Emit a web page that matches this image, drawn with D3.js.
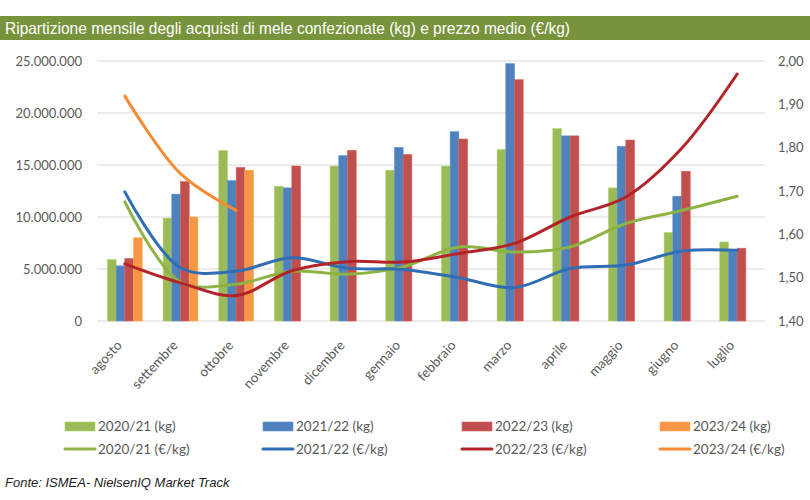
<!DOCTYPE html>
<html><head><meta charset="utf-8">
<script src="https://cdn.jsdelivr.net/npm/d3@7/dist/d3.min.js"></script>
<style>
html,body{margin:0;padding:0;background:#fff;}
svg{display:block;}
</style></head>
<body>
<svg id="chart" width="810" height="500"></svg>
<script>
const months = ["agosto","settembre","ottobre","novembre","dicembre","gennaio","febbraio","marzo","aprile","maggio","giugno","luglio"];
const kg2021 = [5.9e6, 9.9e6, 16.4e6, 12.95e6, 14.9e6, 14.5e6, 14.9e6, 16.5e6, 18.5e6, 12.8e6, 8.5e6, 7.6e6];
const kg2122 = [5.3e6, 12.2e6, 13.5e6, 12.8e6, 15.9e6, 16.7e6, 18.2e6, 24.75e6, 17.8e6, 16.8e6, 12.0e6, 6.7e6];
const kg2223 = [6.0e6, 13.4e6, 14.75e6, 14.9e6, 16.4e6, 16.0e6, 17.5e6, 23.2e6, 17.8e6, 17.4e6, 14.4e6, 7.0e6];
const kg2324 = [8.0e6, 10.0e6, 14.5e6, null, null, null, null, null, null, null, null, null];
const price2021 = [1.675, 1.49, 1.485, 1.515, 1.508, 1.525, 1.571, 1.559, 1.571, 1.625, 1.655, 1.688];
const price2122 = [1.698, 1.523, 1.515, 1.546, 1.522, 1.519, 1.50, 1.477, 1.521, 1.529, 1.561, 1.563];
const price2223 = [1.532, 1.488, 1.459, 1.516, 1.537, 1.536, 1.556, 1.579, 1.64, 1.686, 1.798, 1.97];
const price2324 = [1.919, 1.74, 1.655, null, null, null, null, null, null, null, null, null];
const leftTicks = [0, 5e6, 10e6, 15e6, 20e6, 25e6];
const rightTicks = [1.4, 1.5, 1.6, 1.7, 1.8, 1.9, 2.0];
const titleText = "Ripartizione mensile degli acquisti di mele confezionate (kg) e prezzo medio (€/kg)";
const sourceText = "Fonte: ISMEA- NielsenIQ Market Track";

const barSeries = [
  {key:"2020/21 (kg)", values:kg2021, color:"#9BBB59"},
  {key:"2021/22 (kg)", values:kg2122, color:"#4F81BD"},
  {key:"2022/23 (kg)", values:kg2223, color:"#C0504D"},
  {key:"2023/24 (kg)", values:kg2324, color:"#F79646"}
];
const lineSeries = [
  {key:"2020/21 (€/kg)", values:price2021, color:"#8DB443"},
  {key:"2021/22 (€/kg)", values:price2122, color:"#2F6DB5"},
  {key:"2022/23 (€/kg)", values:price2223, color:"#B3242A"},
  {key:"2023/24 (€/kg)", values:price2324, color:"#F68B33"}
];

const svg = d3.select("#chart");
const font = "Lato, 'Open Sans', 'Liberation Sans', sans-serif";

// Title bar
svg.append("rect").attr("x",0).attr("y",16).attr("width",810).attr("height",24).attr("fill","#77933C");
svg.append("text").attr("x",5).attr("y",34)
  .attr("font-family","'Liberation Sans Narrow','Arial Narrow','Liberation Sans',sans-serif")
  .attr("font-size",17).attr("fill","#fff")
  .attr("textLength",565).attr("lengthAdjust","spacingAndGlyphs")
  .text(titleText);

const x0 = d3.scaleBand().domain(months).range([97,765]).paddingInner(0).paddingOuter(0);
const groupW = x0.bandwidth()*0.625;
const x1 = d3.scaleBand().domain(barSeries.map(s=>s.key)).range([0,groupW]);
const yL = d3.scaleLinear().domain([0,25e6]).range([321,61]);
const yR = d3.scaleLinear().domain([1.4,2.0]).range([321,61]);

// Gridlines
svg.append("g").selectAll("line").data(leftTicks).join("line")
  .attr("x1",97).attr("x2",765)
  .attr("y1",d=>yL(d)).attr("y2",d=>yL(d))
  .attr("stroke","#D9D9D9").attr("stroke-width",1);

// Left axis
const fmtL = v => d3.format(",")(v).replace(/,/g,".");
const axL = svg.append("g").attr("transform","translate(97,0)")
  .call(d3.axisLeft(yL).tickValues(leftTicks).tickFormat(fmtL).tickSize(0).tickPadding(15));
axL.select(".domain").remove();
axL.selectAll("text").attr("font-family",font).attr("font-size",13).attr("fill","#595959");

// Right axis
const fmtR = v => d3.format(".2f")(v).replace(".",",");
const axR = svg.append("g").attr("transform","translate(765,0)")
  .call(d3.axisRight(yR).tickValues(rightTicks).tickFormat(fmtR).tickSize(0).tickPadding(13));
axR.select(".domain").remove();
axR.selectAll("text").attr("font-family",font).attr("font-size",13).attr("fill","#595959");

// X axis labels
const axX = svg.append("g").attr("transform","translate(0,321)")
  .call(d3.axisBottom(x0).tickSize(0).tickPadding(0));
axX.select(".domain").remove();
axX.selectAll("text")
  .attr("font-family",font).attr("font-size",13.5).attr("fill","#595959")
  .attr("text-anchor","end").attr("dy",0)
  .attr("transform","translate(-2,25) rotate(-47)");

// Bars
const groups = svg.append("g").selectAll("g").data(months).join("g")
  .attr("transform",(d)=>`translate(${x0(d)+(x0.bandwidth()-groupW)/2},0)`);
groups.selectAll("rect").data((m,i)=>barSeries.map(s=>({key:s.key,color:s.color,v:s.values[i]})).filter(d=>d.v!=null))
  .join("rect")
  .attr("x",d=>x1(d.key)).attr("width",x1.bandwidth())
  .attr("y",d=>yL(d.v)).attr("height",d=>yL(0)-yL(d.v))
  .attr("fill",d=>d.color)
  .attr("stroke",d=>d3.color(d.color).brighter(0.4)).attr("stroke-width",0.6);

// Lines
const line = d3.line()
  .defined(d=>d.v!=null)
  .x(d=>x0(d.m)+x0.bandwidth()/2)
  .y(d=>yR(d.v))
  .curve(d3.curveCatmullRom.alpha(0.5));
svg.append("g").selectAll("path").data(lineSeries).join("path")
  .attr("d",s=>line(months.map((m,i)=>({m,v:s.values[i]})).filter(d=>d.v!=null)))
  .attr("fill","none").attr("stroke",s=>s.color).attr("stroke-width",3).attr("stroke-linecap","round");

// Legend
const legX = [65,263,462,660];
const leg = svg.append("g");
barSeries.forEach((s,i)=>{
  leg.append("rect").attr("x",legX[i]).attr("y",422).attr("width",30).attr("height",9)
    .attr("fill",s.color).attr("stroke",d3.color(s.color).brighter(0.4)).attr("stroke-width",0.6);
  leg.append("text").attr("x",legX[i]+33).attr("y",431).attr("font-family",font).attr("font-size",13.5)
    .attr("fill","#595959").text(s.key);
});
lineSeries.forEach((s,i)=>{
  leg.append("line").attr("x1",legX[i]).attr("x2",legX[i]+30).attr("y1",449).attr("y2",449)
    .attr("stroke",s.color).attr("stroke-width",3).attr("stroke-linecap","round");
  leg.append("text").attr("x",legX[i]+33).attr("y",454).attr("font-family",font).attr("font-size",13.5)
    .attr("fill","#595959").text(s.key);
});

// Source
svg.append("text").attr("x",5).attr("y",487)
  .attr("font-family","'Liberation Sans Narrow','Arial Narrow','Liberation Sans',sans-serif")
  .attr("font-size",13).attr("font-style","italic").attr("fill","#222")
  .text(sourceText);
</script>
</body></html>
